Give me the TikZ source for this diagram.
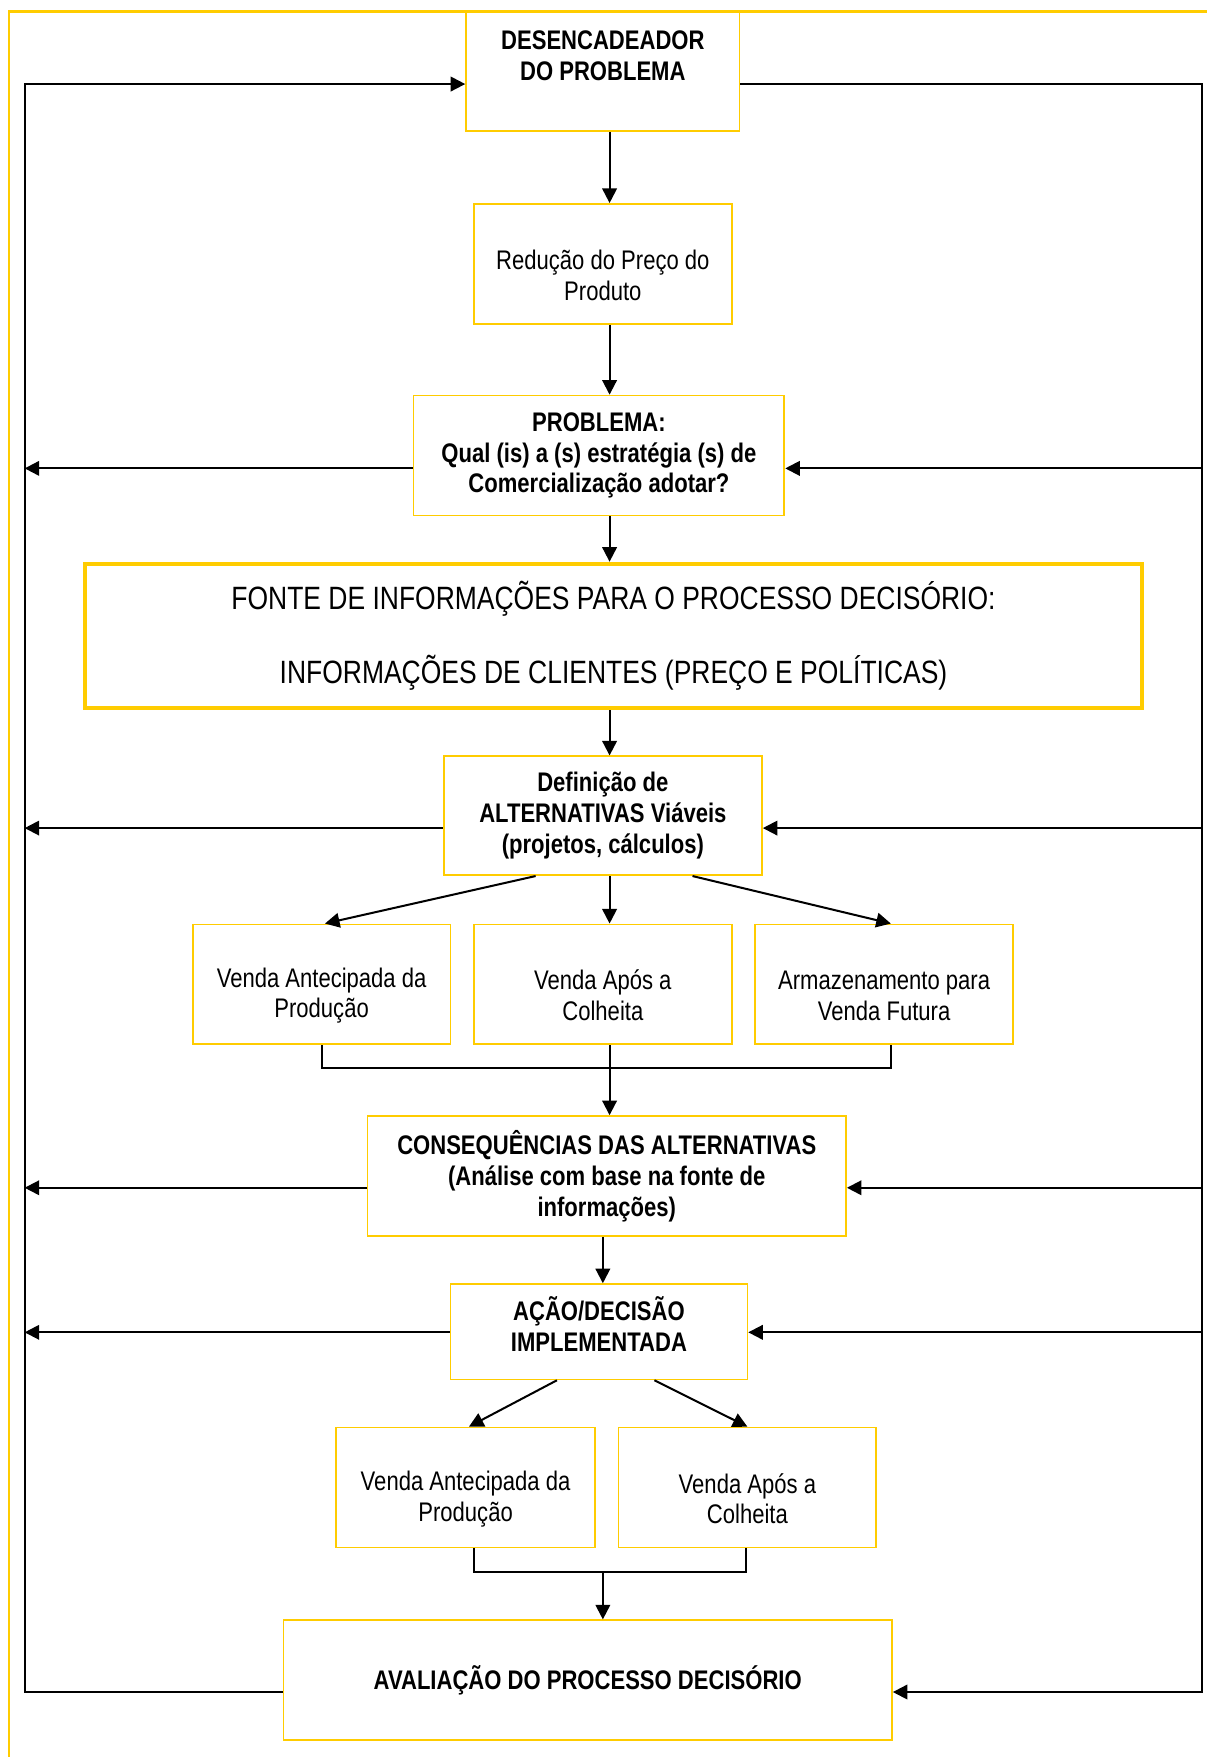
\documentclass[tikz,border=0pt]{standalone}
\usepackage{fontspec}
\setmainfont{Liberation Sans}[FakeStretch=0.82]
\usepackage{xcolor}
\usepackage{tikz}
\usetikzlibrary{arrows.meta}
\definecolor{amarelo}{HTML}{FFCC00}

\begin{document}
\begin{tikzpicture}[
    x=0.5pt,y=-0.5pt,
    caixa/.style  = {draw=amarelo, line width=0.8pt, align=center, inner sep=2pt,
                     font=\fontsize{12}{13.75}\selectfont},
    caixan/.style = {caixa, font=\fontsize{12}{13.75}\selectfont\bfseries},
    caixafonte/.style = {caixa, line width=1.7pt, font=\fontsize{14.4}{16.5}\selectfont},
    liga/.style   = {black, line width=0.9pt},
    seta/.style   = {liga, -{Triangle[length=6.5pt,width=6.5pt]}},
    moldura/.style = {amarelo, line width=1.3pt},
  ]
  \useasboundingbox (0,0) rectangle (1077,1568);
  \draw[moldura] (8,1568) -- (8,10) -- (1077,10);

  \node[caixan, minimum width=122pt, minimum height=53.5pt] (desenc) at (538,63.5)
       {DESENCADEADOR\\DO PROBLEMA\\\mbox{}};
  \node[caixa, minimum width=115pt, minimum height=53.5pt] (reduc) at (538,235.5)
       {\rule{0pt}{5pt}\\Redução do Preço do\\Produto};
  \node[caixan, minimum width=165.5pt, minimum height=53.5pt] (probl) at (534.5,406.5)
       {PROBLEMA:\\Qual (is) a (s) estratégia (s) de\\Comercialização adotar?};
  \node[caixafonte, minimum width=471.5pt, minimum height=64.5pt] (fonte) at (547.5,567.5)
       {FONTE DE INFORMAÇÕES PARA O PROCESSO DECISÓRIO:\\[16.5pt]INFORMAÇÕES DE CLIENTES (PREÇO E POLÍTICAS)};
  \node[caixan, minimum width=142pt, minimum height=53pt] (defin) at (538,728)
       {Definição de\\ALTERNATIVAS Viáveis\\(projetos, cálculos)};

  \node[caixa, minimum width=115pt, minimum height=53.5pt] (vant)  at (287,878.5)
       {\rule{0pt}{5pt}\\Venda Antecipada da\\Produção};
  \node[caixa, minimum width=115pt, minimum height=53.5pt] (vapos) at (538,878.5)
       {\rule{0pt}{5pt}\\Venda Após a\\Colheita};
  \node[caixa, minimum width=115pt, minimum height=53.5pt] (armaz) at (789,878.5)
       {\rule{0pt}{5pt}\\Armazenamento para\\Venda Futura};

  \node[caixan, minimum width=213.5pt, minimum height=53.5pt] (conseq) at (541.5,1049.5)
       {CONSEQUÊNCIAS DAS ALTERNATIVAS\\(Análise com base na fonte de\\informações)};
  \node[caixan, minimum width=132.5pt, minimum height=42.5pt] (acao) at (534.5,1188.5)
       {AÇÃO/DECISÃO\\IMPLEMENTADA\\[-6.75pt]\mbox{}};

  \node[caixa, minimum width=115.5pt, minimum height=53.5pt] (vant2)  at (415.5,1327.5)
       {\rule{0pt}{5pt}\\Venda Antecipada da\\Produção};
  \node[caixa, minimum width=115pt, minimum height=53.5pt] (vapos2) at (667,1327.5)
       {\rule{0pt}{5pt}\\Venda Após a\\Colheita};

  \node[caixan, minimum width=271.5pt, minimum height=53.5pt] (aval) at (524.5,1499.5)
       {AVALIAÇÃO DO PROCESSO DECISÓRIO};

  % eixos e cantos das linhas de retorno
  \coordinate (eixo)  at (544,0);
  \coordinate (eixob) at (538,0);
  \coordinate (ce1) at (22,75);
  \coordinate (ce2) at (22,1510);
  \coordinate (cd1) at (1073,75);
  \coordinate (cd2) at (1073,1510);
  \coordinate (j1e) at (287,953);
  \coordinate (j1d) at (795,953);
  \coordinate (j2e) at (423,1403);
  \coordinate (j2d) at (666,1403);

  \draw[seta] (desenc.south -| eixo) -- (reduc.north -| eixo);
  \draw[seta] (reduc.south -| eixo) -- (probl.north -| eixo);
  \draw[seta] (probl.south -| eixo) -- (fonte.north -| eixo);
  \draw[seta] (fonte.south -| eixo) -- (defin.north -| eixo);

  \draw[seta] ([xshift=-30pt]defin.south) -- ([xshift=1.5pt]vant.north);
  \draw[seta] (defin.south -| eixo) -- (vapos.north -| eixo);
  \draw[seta] ([xshift=40pt]defin.south) -- ([xshift=3pt]armaz.north);

  \draw[liga] (vant.south) -- (j1e) -- (j1d) -- (j1d |- armaz.south);
  \draw[seta] (vapos.south -| eixo) -- (conseq.north -| eixo);
  \draw[seta] (conseq.south -| eixob) -- (acao.north -| eixob);

  \draw[seta] ([xshift=-18.75pt]acao.south) -- ([xshift=1.5pt]vant2.north);
  \draw[seta] ([xshift=24.75pt]acao.south) -- (vapos2.north);

  \draw[liga] (j2e |- vant2.south) -- (j2e) -- (j2d) -- (j2d |- vapos2.south);
  \draw[seta] (eixob |- j2e) -- (aval.north -| eixob);

  % retorno
  \draw[seta] (aval.west |- ce2) -- (ce2) -- (ce1) -- (desenc.west |- ce1);
  \draw[seta] (desenc.east |- cd1) -- (cd1) -- (cd2) -- (aval.east |- cd2);
  \foreach \c/\y in {probl/418, defin/739, conseq/1060, acao/1189} {
    \draw[seta] (\c.west |- 0,\y) -- (ce1 |- 0,\y);
    \draw[seta] (cd1 |- 0,\y) -- (\c.east |- 0,\y);
  }

\end{tikzpicture}
\end{document}
